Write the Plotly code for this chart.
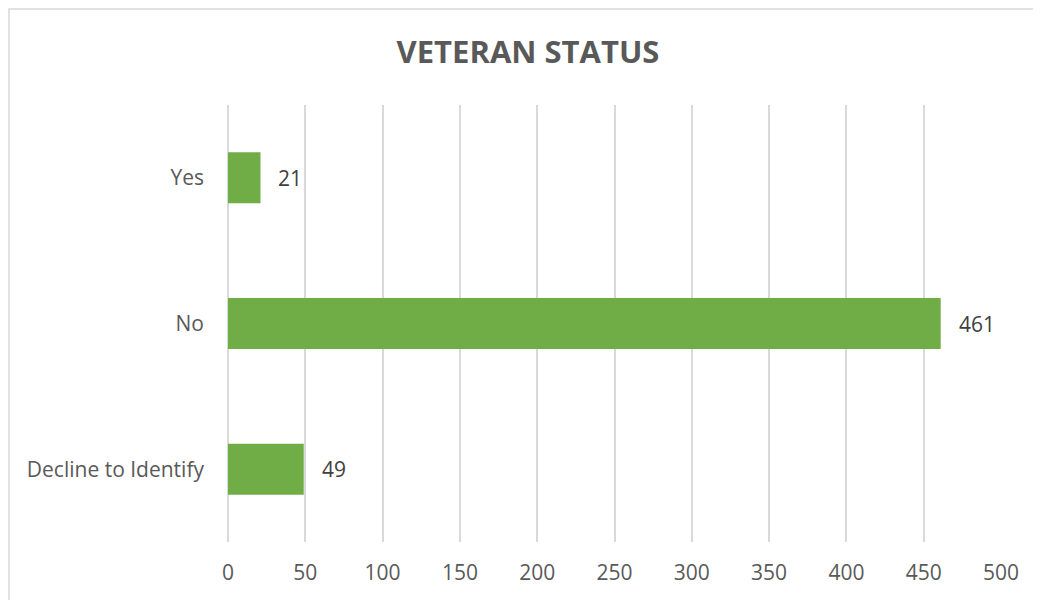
import plotly.graph_objects as go

categories = ["Yes", "No", "Decline to Identify"]
counts = [21, 461, 49]
x_ticks = [0, 50, 100, 150, 200, 250, 300, 350, 400, 450, 500]

FONT = "Open Sans"
GREEN = "#70AD47"
GRID = "#D9D9D9"

# page body has an 8px margin; size the figure so the plot lands where the reference does
W, H = 1033, 592
ML, MR, MT, MB = 220, 40, 97, 58
PW, PH = W - ML - MR, H - MT - MB

fig = go.Figure()
fig.add_trace(go.Bar(
    y=categories, x=counts, orientation="h",
    marker=dict(color=GREEN, line=dict(width=0)),
    width=0.35,
    hoverinfo="x+y",
))

for c, v in zip(categories, counts):
    fig.add_annotation(x=v, y=c, text=str(v), showarrow=False,
                       xanchor="left", xshift=16,
                       font=dict(family=FONT, size=21, color="#404040"))

fig.update_layout(
    width=W, height=H,
    margin=dict(l=ML, r=MR, t=MT, b=MB),
    paper_bgcolor="white", plot_bgcolor="white",
    showlegend=False,
    title=dict(text="<b>VETERAN STATUS</b>", x=(528 - 8) / W, xref="container", xanchor="center",
               y=1 - (52 - 8) / H, yref="container", yanchor="middle",
               font=dict(family=FONT, size=31, color="#595959")),
    xaxis=dict(range=[0, 500], tickvals=x_ticks, showgrid=True, gridcolor=GRID, gridwidth=1.5,
               zeroline=True, zerolinecolor=GRID, zerolinewidth=1.5, showline=False,
               ticks="", ticklabelstandoff=16,
               tickfont=dict(family=FONT, size=21, color="#595959")),
    yaxis=dict(autorange="reversed", showgrid=False, showline=False, ticks="",
               ticklabelstandoff=23,
               tickfont=dict(family=FONT, size=21, color="#595959")),
    shapes=[dict(type="rect", xref="paper", yref="paper",
                 x0=(1 - ML) / PW, x1=(W + 20 - ML) / PW,
                 y0=-(MB + 20) / PH, y1=(PH + MT - 1) / PH,
                 line=dict(color="#D9D9D9", width=1.5), fillcolor="rgba(0,0,0,0)",
                 layer="below")],
)

fig.write_html("out.html")
